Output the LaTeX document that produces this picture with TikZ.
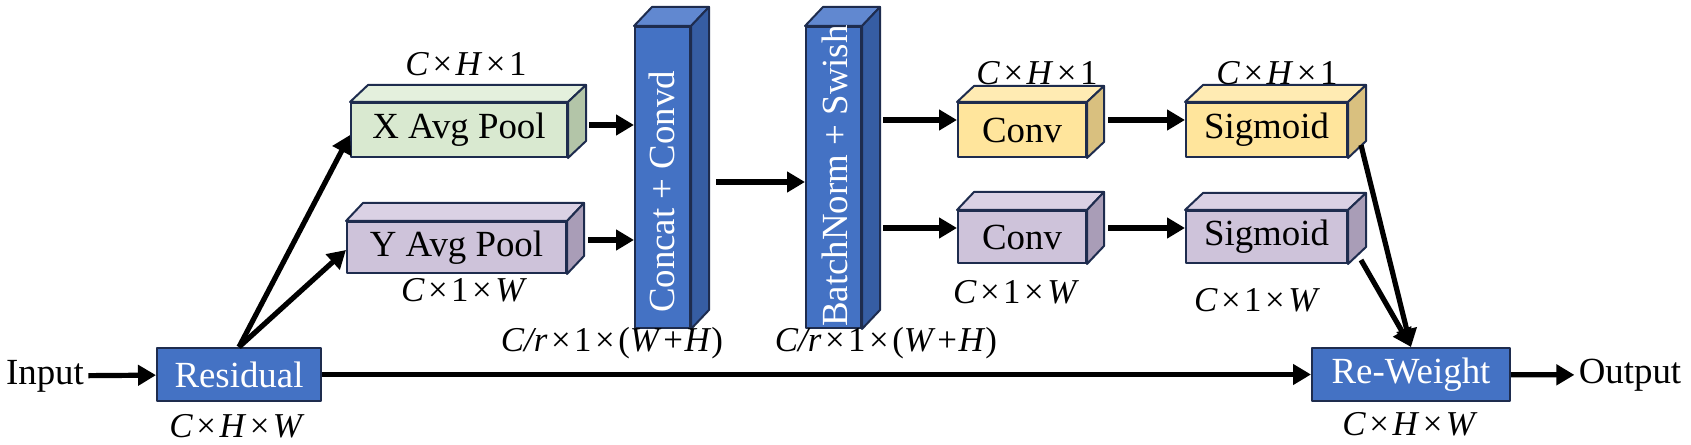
\documentclass[tikz,border=0pt]{standalone}
\usepackage{fontspec}
\setmainfont{Liberation Serif}
\usetikzlibrary{arrows.meta,calc}
\definecolor{edgec}{RGB}{30,44,78}
\definecolor{bluefront}{HTML}{4472C4}
\definecolor{bluetop}{HTML}{6188D0}
\definecolor{blueside}{HTML}{365DA3}
\definecolor{greenfront}{HTML}{D9E9D0}
\definecolor{greentop}{HTML}{E4F0DD}
\definecolor{greenside}{HTML}{B3C5A8}
\definecolor{purplefront}{HTML}{CEC3DA}
\definecolor{purpletop}{HTML}{DAD1E4}
\definecolor{purpleside}{HTML}{A99DB7}
\definecolor{yellowfront}{HTML}{FFE59C}
\definecolor{yellowtop}{HTML}{FFEBB3}
\definecolor{yellowside}{HTML}{D9C07F}
\newcommand\tm{\hspace{0.1em}×\hspace{0.1em}}
\newcommand\pl{\hspace{0.05em}+\hspace{0.05em}}
\newcommand\cubefaces[4]{%
  \filldraw[face, fill=#3] (#1.north west) -- ($(#1.north west)+(#2)$) -- ($(#1.north east)+(#2)$) -- (#1.north east) -- cycle;
  \filldraw[face, fill=#4] (#1.north east) -- ($(#1.north east)+(#2)$) -- ($(#1.south east)+(#2)$) -- (#1.south east) -- cycle;}
\tikzset{
  face/.style={draw=edgec, line width=1bp, line join=round},
  front/.style={face, inner sep=0pt, font=\fontsize{18.5}{22}\selectfont},
  vtext/.style={rotate=90, text=white, inner sep=0pt, font=\fontsize{18.5}{22}\selectfont},
  dim/.style={inner sep=0pt, font=\fontsize{17.5}{21}\selectfont},
  plain/.style={inner sep=2bp, font=\fontsize{18.5}{22}\selectfont},
  arr/.style={line width=2.6bp, -{Triangle[length=9bp,width=10bp]}},
}
\begin{document}
\begin{tikzpicture}[x=0.5bp, y=-0.5bp]
\useasboundingbox (0,0) rectangle (1691,445);

% flat blocks
\node[front, fill=bluefront, text=white, minimum width=82bp, minimum height=26.5bp] (res) at (239,374.5) {Residual};
\node[front, fill=bluefront, text=white, minimum width=99bp, minimum height=26.5bp] (rw) at (1411,374.5) {Re-Weight};

% cubes
\node[front, fill=greenfront, minimum width=108bp, minimum height=27bp] (xp) at (459,130) {X Avg Pool};
\cubefaces{xp}{18,-17}{greentop}{greenside}
\node[front, fill=purplefront, minimum width=109.5bp, minimum height=25.5bp] (yp) at (456.5,247.5) {Y Avg Pool};
\cubefaces{yp}{17,-18}{purpletop}{purpleside}

\node[front, fill=bluefront, minimum width=27.5bp, minimum height=150.5bp] (cc) at (662.5,177.5) {};
\cubefaces{cc}{18,-19}{bluetop}{blueside}
\node[vtext] (cct) at (662,192) {Concat + Convd};

\node[front, fill=bluefront, minimum width=27.5bp, minimum height=150.5bp] (bn) at (833.5,177.5) {};
\cubefaces{bn}{18,-19}{bluetop}{blueside}
\node[vtext] (bnt) at (835,176) {BatchNorm + Swish};

\node[front, fill=yellowfront, minimum width=64bp, minimum height=27bp] (c1) at (1022,130) {Conv};
\cubefaces{c1}{17,-16}{yellowtop}{yellowside}
\node[front, fill=yellowfront, minimum width=80.5bp, minimum height=27bp] (s1) at (1266.5,130) {Sigmoid};
\cubefaces{s1}{18,-17}{yellowtop}{yellowside}
\node[front, fill=purplefront, minimum width=64bp, minimum height=26bp] (c2) at (1022,237) {Conv};
\cubefaces{c2}{17,-18}{purpletop}{purpleside}
\node[front, fill=purplefront, minimum width=80.5bp, minimum height=26bp] (s2) at (1266.5,237) {Sigmoid};
\cubefaces{s2}{18,-17}{purpletop}{purpleside}

% plain texts
\node[plain] (in) at (45,376) {Input};
\node[plain] (out) at (1630,375) {Output};

% dimension labels
\node[dim] (lx) at (466,64) {\textit{C}\tm\textit{H}\tm1};
\node[dim] (ly) at (464,290) {\textit{C}\tm1\tm\textit{W}};
\node[dim] (lres) at (237,426) {\textit{C}\tm\textit{H}\tm\textit{W}};
\node[dim] (lcc) at (612,343) {\textit{C/r}\tm1\tm(\textit{W}\pl\textit{H})};
\node[dim] (lbn) at (886,343) {\textit{C/r}\tm1\tm(\textit{W}\pl\textit{H})};
\node[dim] (lc1) at (1037,73) {\textit{C}\tm\textit{H}\tm1};
\node[dim] (ls1) at (1277,73) {\textit{C}\tm\textit{H}\tm1};
\node[dim] (lc2) at (1016,292) {\textit{C}\tm1\tm\textit{W}};
\node[dim] (ls2) at (1257,300) {\textit{C}\tm1\tm\textit{W}};
\node[dim] (lrw) at (1410,424) {\textit{C}\tm\textit{H}\tm\textit{W}};

% connectors
\draw[arr] (in) -- (res);
\draw[arr] (res.north) -- ([yshift=-2.5bp]xp.west);
\draw[arr] (res.north) -- ([yshift=-1.25bp]yp.west);

\coordinate (xo) at ($(xp.east)+(21,-5)$);
\draw[arr] (xo) -- (xo -| cc.west);
\coordinate (yo) at ($(yp.east)+(21,-7.5)$);
\draw[arr] (yo) -- (yo -| cc.west);

\coordinate (co) at ($(cc.east)+(25,4.5)$);
\draw[arr] (co) -- (co -| bn.west);

\coordinate (bo1) at ($(bn.east |- c1.west)+(21,-10)$);
\draw[arr] (bo1) -- (bo1 -| c1.west);
\coordinate (bo2) at ($(bn.east |- c2.west)+(21,-9)$);
\draw[arr] (bo2) -- (bo2 -| c2.west);

\coordinate (c1o) at ($(c1.east)+(21,-10)$);
\draw[arr] (c1o) -- (c1o -| s1.west);
\coordinate (c2o) at ($(c2.east)+(21,-9)$);
\draw[arr] (c2o) -- (c2o -| s2.west);

\coordinate (s1o) at ($(s1.east)+(13,15)$);
\draw[arr] (s1o) -- (rw.north);
\coordinate (s2o) at ($(s2.east)+(13,23)$);
\draw[arr] (s2o) -- (rw.north);

\draw[arr] (res) -- (rw);
\draw[arr] (rw) -- (out);
\end{tikzpicture}
\end{document}
